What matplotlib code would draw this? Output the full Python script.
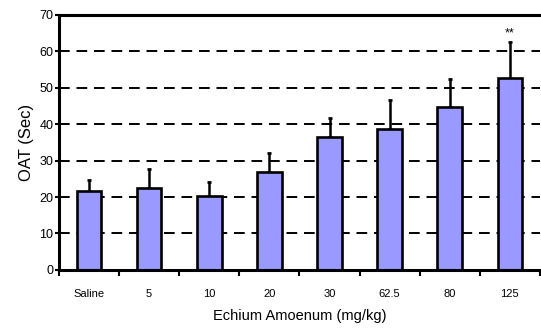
import matplotlib.pyplot as plt
import numpy as np

plt.rcParams['font.family'] = ['Liberation Sans', 'DejaVu Sans']

# data
doses = ["Saline", "5", "10", "20", "30", "62.5", "80", "125"]
oat_mean = [21.8, 22.6, 20.4, 26.9, 36.6, 38.7, 44.6, 52.6]
oat_err = [2.8, 5.1, 3.7, 5.1, 5.0, 8.0, 7.8, 10.1]
signif = ["", "", "", "", "", "", "", "**"]

fig = plt.figure(figsize=(5.41, 3.32), dpi=100)
ax = fig.add_axes([0.109, 0.187, 0.889, 0.768])

x = np.arange(len(doses))
ax.set_axisbelow(True)
ax.yaxis.grid(True, color='black', linestyle=(0, (5.5, 3.5)), linewidth=1.4)
ax.bar(x, oat_mean, width=0.41, color='#9999FF', edgecolor='black', linewidth=1.9, zorder=2)
ax.errorbar(x, oat_mean, yerr=[np.zeros(len(x)), oat_err], fmt='none', ecolor='black',
            elinewidth=1.8, capsize=1.5, capthick=2, zorder=1)

for xi, m, e, s in zip(x, oat_mean, oat_err, signif):
    if s:
        ax.text(xi, m + e + 0.6, s, ha='center', va='bottom', fontsize=9)

ax.set_xlim(-0.5, len(doses) - 0.5)
ax.set_ylim(0, 70)
ax.set_yticks(np.arange(0, 71, 10))
ax.set_xticks(x)
ax.set_xticklabels(doses, fontsize=8)
ax.set_xticks(np.arange(-0.5, len(doses) - 0.4, 1), minor=True)
ax.tick_params(axis='x', which='major', length=0, pad=14)
ax.tick_params(axis='x', which='minor', length=4, width=1.5, direction='out')
ax.tick_params(axis='y', length=3, width=1.5, labelsize=9, pad=1)

for side in ['left', 'top', 'bottom']:
    ax.spines[side].set_linewidth(2.2)
ax.spines['right'].set_visible(False)

ax.set_xlabel("Echium Amoenum (mg/kg)", fontsize=10.5, labelpad=7)
ax.set_ylabel("OAT (Sec)", fontsize=12, labelpad=4)

fig.savefig("out.png", dpi=100)
